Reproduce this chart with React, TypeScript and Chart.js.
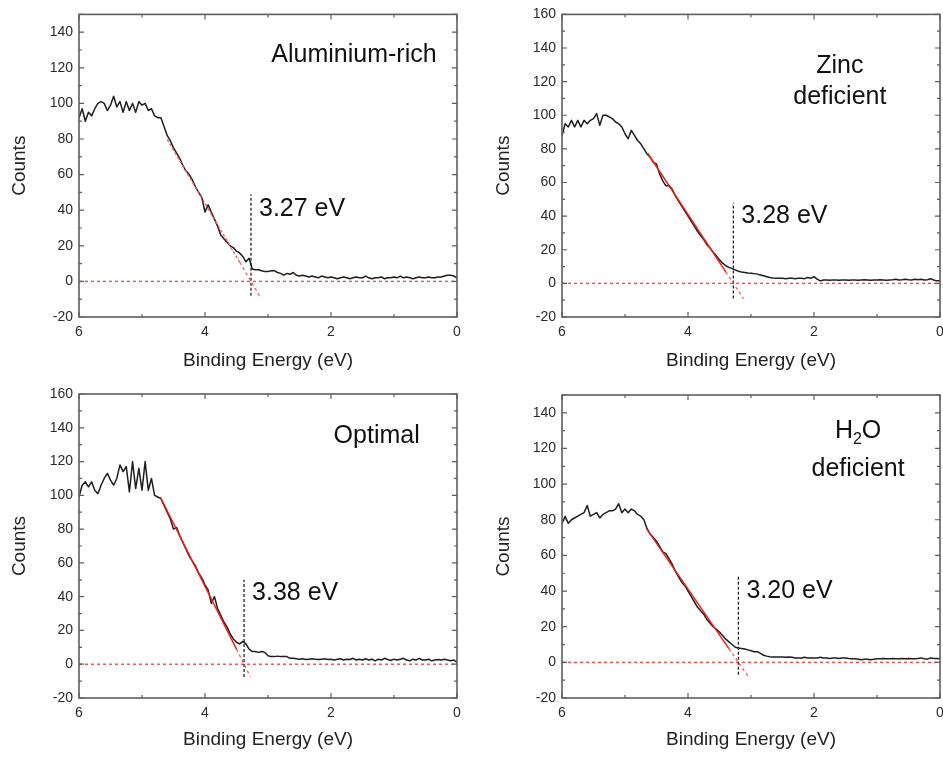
import React, { useEffect, useRef } from "react";
import { Chart, registerables } from "chart.js";

Chart.register(...registerables);

const FONT = '"Liberation Sans", Arial, Helvetica, sans-serif';

// Binding energy grid (eV), shared by all four spectra
const ENERGY = [
  6.0, 5.95, 5.9, 5.85, 5.8, 5.75, 5.7, 5.65, 5.6, 5.55,
  5.5, 5.45, 5.4, 5.35, 5.3, 5.25, 5.2, 5.15, 5.1, 5.05,
  5.0, 4.95, 4.9, 4.85, 4.8, 4.75, 4.7, 4.65, 4.6, 4.55,
  4.5, 4.45, 4.4, 4.35, 4.3, 4.25, 4.2, 4.15, 4.1, 4.05,
  4.0, 3.95, 3.9, 3.85, 3.8, 3.75, 3.7, 3.65, 3.6, 3.55,
  3.5, 3.45, 3.4, 3.35, 3.3, 3.25, 3.2, 3.15, 3.1, 3.05,
  3.0, 2.95, 2.9, 2.85, 2.8, 2.75, 2.7, 2.65, 2.6, 2.55,
  2.5, 2.45, 2.4, 2.35, 2.3, 2.25, 2.2, 2.15, 2.1, 2.05,
  2.0, 1.95, 1.9, 1.85, 1.8, 1.75, 1.7, 1.65, 1.6, 1.55,
  1.5, 1.45, 1.4, 1.35, 1.3, 1.25, 1.2, 1.15, 1.1, 1.05,
  1.0, 0.95, 0.9, 0.85, 0.8, 0.75, 0.7, 0.65, 0.6, 0.55,
  0.5, 0.45, 0.4, 0.35, 0.3, 0.25, 0.2, 0.15, 0.1, 0.05,
  0.0,
];

const COUNTS_AL_RICH = [
  92, 97, 90, 95, 93, 97, 100, 101, 100, 96,
  99, 104, 98, 101, 95, 101, 96, 100, 95, 101,
  99, 100, 96, 97, 93, 92, 92, 87, 82, 79,
  75, 72, 69, 65, 62, 60, 57, 53, 50, 47,
  39, 43, 39, 35, 31, 26, 24, 22, 20, 19,
  17, 16, 14, 11, 13, 7, 6.5, 6.5, 6, 5.5,
  5.5, 6, 6, 5, 4.5, 3.5, 4.5, 4, 5, 3.5,
  3, 3.5, 3, 2.5, 3, 2.5, 2, 3, 2.5, 2,
  2.5, 2, 1.5, 2, 2.5, 2, 1.5, 2, 2.5, 2,
  2, 3, 2, 1.5, 2, 2, 2.5, 1.5, 2, 2,
  2.5, 2, 3, 2, 2.5, 2, 1.5, 2, 2.5, 2,
  2, 2.5, 2, 2, 2.5, 2.5, 3, 3.5, 3.5, 3,
  2,
];

const COUNTS_ZN_DEF = [
  88, 95, 93, 97, 93, 97, 93, 97, 95, 97,
  98, 101, 94, 100, 100, 99, 98, 96, 95, 93,
  89, 86, 91, 88, 85, 83, 80, 77, 75, 72,
  71, 65, 61, 58, 58, 56, 52, 49, 46, 43,
  40, 37, 34, 31, 28.5, 26, 23, 21, 18.5, 16.5,
  14, 12, 10.5, 9.5, 8.8, 8, 7.2, 6.8, 6.5, 6.2,
  6, 5.8, 5.5, 5, 4.5, 4, 3.5, 3.2, 3, 3,
  3, 2.8, 3, 3, 2.8, 3, 3, 2.8, 3.5, 3,
  4, 2.5, 1.5, 2, 2, 1.8, 2, 2, 1.8, 2,
  2, 1.8, 2, 2, 1.8, 2, 2.2, 2, 1.8, 2,
  2, 2.2, 2, 1.8, 2, 2.2, 2.5, 2, 2.2, 2.5,
  2.2, 2, 2.5, 2.2, 2.5, 2, 2.2, 2.8, 2, 1.5,
  1.5,
];

const COUNTS_OPTIMAL = [
  99, 106, 108, 105, 108, 103, 101, 106, 110, 113,
  109, 106, 110, 118, 114, 117, 102, 120, 104, 116,
  103, 120, 103, 110, 100, 99, 98, 94, 90, 86,
  80, 81, 76, 72, 68, 64, 61, 58, 54, 51,
  47, 44, 36, 40, 33, 29, 25, 22, 18, 15,
  13, 12, 13.5, 12, 9, 7.5, 7.5, 7, 7.5, 7,
  5, 4.5, 4.5, 4.8, 4.5, 4.5, 4.5, 3.5, 3.5, 3.2,
  3, 3.2, 2.8, 3, 3.2, 3, 2.8, 3, 3.2, 2.8,
  3, 2.5, 3, 3.2, 2.5, 3, 2.8, 3.5, 2.5, 3,
  2.5, 3.2, 2.5, 3, 2, 3, 2.5, 3.5, 2.8, 2.2,
  3, 2.5, 3, 3.5, 2.5, 2, 3, 2.5, 3.5, 2.5,
  2.5, 3, 2, 2.5, 2.8, 2.5, 3, 2.5, 2, 2.5,
  1,
];

const COUNTS_H2O_DEF = [
  78, 82, 78, 80, 81, 82, 83, 84, 88, 82,
  83, 84, 81, 83, 84, 85, 85, 86, 89, 84,
  86, 84, 86, 85, 83, 82, 80, 75, 72, 70,
  68, 65, 62, 61, 58, 55, 51, 48, 45, 43,
  40, 37, 34, 31, 29, 27, 24, 22, 20, 18.5,
  17, 15, 13, 11.5, 10, 8.5, 8, 7.8, 7.5, 7,
  6.5, 6, 6, 5, 4, 3.5, 3.2, 3, 3, 3,
  3, 2.8, 3, 2.8, 2.5, 2.5, 2.5, 2.8, 2.5, 2.5,
  2.5, 2.5, 2.8, 2.5, 2.5, 2.2, 2.5, 2.5, 2.2, 2.5,
  2.5, 2.2, 2, 2, 1.8, 1.5, 1.8, 1.8, 1.5, 1.8,
  2, 2, 2.2, 2, 2, 2.2, 2, 2, 2.2, 2,
  2.2, 2, 2, 2.2, 2.5, 2, 1.8, 2.5, 2.2, 2.2,
  2,
];

// Linear fits of the leading edge: [start, end of fitted region, end of extrapolation]
const FIT_E_AL_RICH = [4.6, 3.45, 3.13];
const FIT_C_AL_RICH = [79.8, 10.8, -8.4];
const FIT_E_ZN_DEF = [4.64, 3.4, 3.12];
const FIT_C_ZN_DEF = [77.4, 6.8, -9.1];
const FIT_E_OPTIMAL = [4.71, 3.5, 3.28];
const FIT_C_OPTIMAL = [99, 8.9, -7.4];
const FIT_E_H2O_DEF = [4.66, 3.35, 3.05];
const FIT_C_H2O_DEF = [75, 7.7, -7.7];

// Valence band onsets (eV) and their vertical marker extent (counts)
const ONSETS = [3.27, 3.28, 3.38, 3.2];
const ONSET_LABELS = ["3.27 eV", "3.28 eV", "3.38 eV", "3.20 eV"];
const ONSET_MARK_RANGE = [
  [-8, 49],
  [-9, 48],
  [-7.5, 50],
  [-7, 49],
];
const ONSET_LABEL_Y = [36.6, 36, 38, 36.1];

const PANEL_TITLES = [["Aluminium-rich"], ["Zinc", "deficient"], ["Optimal"], ["H_2O", "deficient"]];
const TITLE_X = [1.635, 1.59, 1.275, 1.3];
const TITLE_Y = [[123], [125, 106.5], [131], [125.6, 104.5]];

const Y_MAX = [150, 160, 160, 150];
const X_TICKS_STEP = 2;
const Y_TICKS_STEP = 20;

type Layout = { left: number; top: number; w: number; h: number; padTop: number; padRight: number; yw: number; xh: number; yTitlePad: number };

const LAYOUTS: Layout[] = [
  { left: 0, top: 0, w: 471, h: 379, padTop: 14, padRight: 14, yw: 79, xh: 62, yTitlePad: 8 },
  { left: 471, top: 0, w: 472, h: 379, padTop: 14, padRight: 3, yw: 91, xh: 62, yTitlePad: 21 },
  { left: 0, top: 379, w: 471, h: 379, padTop: 15, padRight: 14, yw: 79, xh: 60, yTitlePad: 8 },
  { left: 471, top: 379, w: 472, h: 379, padTop: 16, padRight: 3, yw: 91, xh: 60, yTitlePad: 21 },
];

const SPECTRA = [COUNTS_AL_RICH, COUNTS_ZN_DEF, COUNTS_OPTIMAL, COUNTS_H2O_DEF];
const FITS_E = [FIT_E_AL_RICH, FIT_E_ZN_DEF, FIT_E_OPTIMAL, FIT_E_H2O_DEF];
const FITS_C = [FIT_C_AL_RICH, FIT_C_ZN_DEF, FIT_C_OPTIMAL, FIT_C_H2O_DEF];

function drawRichText(ctx: CanvasRenderingContext2D, text: string, cx: number, by: number, size: number) {
  // "_" marks the next character as a subscript
  const parts: { t: string; sub: boolean }[] = [];
  for (let i = 0; i < text.length; i++) {
    if (text[i] === "_" && i + 1 < text.length) {
      parts.push({ t: text[i + 1], sub: true });
      i++;
    } else {
      parts.push({ t: text[i], sub: false });
    }
  }
  const big = `${size}px ${FONT}`;
  const small = `${Math.round(size * 0.65)}px ${FONT}`;
  let total = 0;
  for (const p of parts) {
    ctx.font = p.sub ? small : big;
    total += ctx.measureText(p.t).width;
  }
  let x = cx - total / 2;
  ctx.textAlign = "left";
  ctx.textBaseline = "alphabetic";
  for (const p of parts) {
    ctx.font = p.sub ? small : big;
    ctx.fillText(p.t, x, p.sub ? by + size * 0.22 : by);
    x += ctx.measureText(p.t).width;
  }
}

function makeDecor(idx: number) {
  return {
    id: "decor" + idx,
    afterDraw(chart: any) {
      const { ctx, chartArea: a, scales } = chart;
      const x = scales.x;
      const y = scales.y;
      ctx.save();
      // frame
      ctx.strokeStyle = "#5e5e5e";
      ctx.lineWidth = 1.6;
      ctx.strokeRect(a.left, a.top, a.right - a.left, a.bottom - a.top);
      // inward ticks
      ctx.lineWidth = 1.2;
      ctx.beginPath();
      for (let v = 0; v <= 6.0001; v += 1) {
        const px = x.getPixelForValue(v);
        const len = Math.abs(v % X_TICKS_STEP) < 1e-6 ? 5 : 3;
        ctx.moveTo(px, a.bottom);
        ctx.lineTo(px, a.bottom - len);
        ctx.moveTo(px, a.top);
        ctx.lineTo(px, a.top + len);
      }
      for (let v = -20; v <= Y_MAX[idx] + 0.001; v += 10) {
        const py = y.getPixelForValue(v);
        const len = Math.abs(v % Y_TICKS_STEP) < 1e-6 ? 5 : 3;
        ctx.moveTo(a.left, py);
        ctx.lineTo(a.left + len, py);
        ctx.moveTo(a.right, py);
        ctx.lineTo(a.right - len, py);
      }
      ctx.stroke();
      // panel title
      ctx.fillStyle = "#111";
      PANEL_TITLES[idx].forEach((line, i) => {
        drawRichText(ctx, line, x.getPixelForValue(TITLE_X[idx]), y.getPixelForValue(TITLE_Y[idx][i]), 25);
      });
      // onset label
      ctx.font = `25px ${FONT}`;
      ctx.textAlign = "left";
      ctx.textBaseline = "alphabetic";
      ctx.fillText(ONSET_LABELS[idx], x.getPixelForValue(ONSETS[idx]) + 8, y.getPixelForValue(ONSET_LABEL_Y[idx]));
      ctx.restore();
    },
  };
}

function Panel({ idx }: { idx: number }) {
  const ref = useRef<HTMLCanvasElement | null>(null);
  const L = LAYOUTS[idx];
  useEffect(() => {
    if (!ref.current) return;
    const counts = SPECTRA[idx];
    const fe = FITS_E[idx];
    const fc = FITS_C[idx];
    const solidFit = idx !== 0;
    const chart = new Chart(ref.current, {
      type: "line",
      data: {
        datasets: [
          {
            label: "fit",
            data: [
              { x: fe[0], y: fc[0] },
              { x: fe[1], y: fc[1] },
            ],
            borderColor: solidFit ? "#ee1c1c" : "rgba(240,90,90,0.9)",
            borderDash: solidFit ? [] : [3, 2],
            borderWidth: 1.5,
            pointRadius: 0,
            order: 0,
          },
          {
            label: "fit extrapolation",
            data: [
              { x: fe[1], y: fc[1] },
              { x: fe[2], y: fc[2] },
            ],
            borderColor: "rgba(240,80,80,0.9)",
            borderDash: [3, 3],
            borderWidth: 1.4,
            pointRadius: 0,
            order: 0,
          },
          {
            label: "spectrum",
            data: ENERGY.map((e, i) => ({ x: e, y: counts[i] })),
            borderColor: "#1e1e1e",
            borderWidth: 1.5,
            borderJoinStyle: "round",
            pointRadius: 0,
            order: 1,
          },
          {
            label: "onset",
            data: [
              { x: ONSETS[idx], y: ONSET_MARK_RANGE[idx][0] },
              { x: ONSETS[idx], y: ONSET_MARK_RANGE[idx][1] },
            ],
            borderColor: "#222",
            borderDash: [3, 2],
            borderWidth: 1.3,
            pointRadius: 0,
            order: 2,
          },
          {
            label: "zero",
            data: [
              { x: 6, y: 0 },
              { x: 0, y: 0 },
            ],
            borderColor: "#f44a4a",
            borderDash: [3, 3],
            borderWidth: 1.4,
            pointRadius: 0,
            order: 3,
          },
        ],
      },
      options: {
        animation: false,
        responsive: false,
        events: [],
        layout: { padding: { top: L.padTop, right: L.padRight, left: 0, bottom: 0 } },
        plugins: { legend: { display: false }, tooltip: { enabled: false } },
        scales: {
          x: {
            type: "linear",
            reverse: true,
            min: 0,
            max: 6,
            grid: { display: false, drawTicks: false },
            border: { display: false },
            ticks: { stepSize: X_TICKS_STEP, font: { size: 14, family: FONT }, color: "#2a2a2a", padding: 7, maxRotation: 0, includeBounds: false },
            title: { display: true, text: "Binding Energy (eV)", font: { size: 19, family: FONT }, color: "#222", padding: { top: 0, bottom: 7 } },
            afterFit: (s: any) => {
              s.height = L.xh;
              s.paddingLeft = 0;
              s.paddingRight = 0;
            },
          },
          y: {
            type: "linear",
            min: -20,
            max: Y_MAX[idx],
            grid: { display: false, drawTicks: false },
            border: { display: false },
            ticks: { stepSize: Y_TICKS_STEP, font: { size: 14, family: FONT }, color: "#2a2a2a", padding: 6, includeBounds: false },
            title: { display: true, text: "Counts", font: { size: 19, family: FONT }, color: "#222", padding: { top: L.yTitlePad, bottom: 0 } },
            afterFit: (s: any) => {
              s.width = L.yw;
            },
          },
        },
      } as any,
      plugins: [makeDecor(idx)],
    });
    return () => chart.destroy();
  }, [idx]);
  return <canvas ref={ref} width={L.w} height={L.h} style={{ position: "absolute", left: L.left, top: L.top, width: L.w, height: L.h }} />;
}

export default function App() {
  return (
    <div style={{ position: "absolute", left: 0, top: 0, width: 943, height: 758, background: "#fff" }}>
      {[0, 1, 2, 3].map((i) => (
        <Panel key={i} idx={i} />
      ))}
    </div>
  );
}
